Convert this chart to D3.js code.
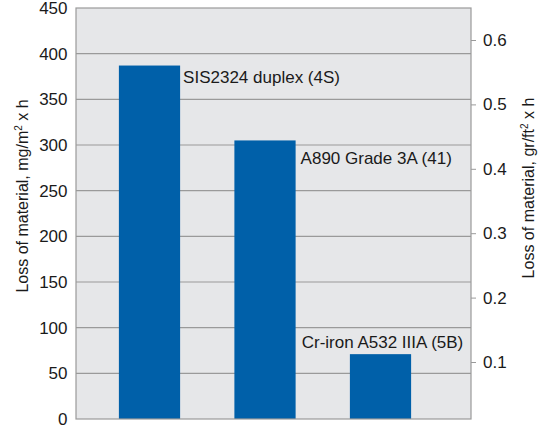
<!DOCTYPE html>
<html><head><meta charset="utf-8">
<script src="https://cdn.jsdelivr.net/npm/d3@7"></script>
<style>
body{margin:0;background:#fff;}
text{font-family:"Liberation Sans",Arial,Helvetica,sans-serif;fill:#1a1a1a;}
</style></head>
<body>
<svg id="c" width="545" height="429"></svg>
<script>
const categories = ["SIS2324 duplex (4S)", "A890 Grade 3A (41)", "Cr-iron A532 IIIA (5B)"];
const values = [387, 305, 71];
const leftTicks = [0, 50, 100, 150, 200, 250, 300, 350, 400, 450];
const rightTicks = [0.1, 0.2, 0.3, 0.4, 0.5, 0.6];

const svg = d3.select("#c");
const L = 76, R = 471, T = 8, B = 419;
const y = d3.scaleLinear().domain([0, 450]).range([B, T]);
const yR = d3.scaleLinear().domain([0.1, 0.6]).range([362, 40]);
const x = d3.scaleBand().domain(categories).range([91.75, 438.25]).paddingInner(0.47).paddingOuter(0.235);

svg.append("rect").attr("x", L).attr("y", T).attr("width", R - L).attr("height", B - T)
  .attr("fill", "#e6e7e9");

// gridlines
svg.append("g").selectAll("line").data(leftTicks.filter(d => d > 0 && d < 450)).join("line")
  .attr("x1", L).attr("x2", R).attr("y1", d => y(d)).attr("y2", d => y(d))
  .attr("stroke", "#9a9a9a").attr("stroke-width", 1.2);

// bars
svg.append("g").selectAll("rect").data(values).join("rect")
  .attr("x", (d, i) => x(categories[i])).attr("width", x.bandwidth())
  .attr("y", d => y(d)).attr("height", d => B - y(d))
  .attr("fill", "#0060a9");

// border
svg.append("rect").attr("x", L).attr("y", T).attr("width", R - L).attr("height", B - T)
  .attr("fill", "none").attr("stroke", "#9a9a9a").attr("stroke-width", 1.2);

// left axis
const la = svg.append("g").attr("transform", `translate(${L},0)`)
  .call(d3.axisLeft(y).tickValues(leftTicks).tickSize(0).tickPadding(8.5));
la.select(".domain").remove();
la.selectAll("text").style("font-size", "17px").style("font-family", '"Liberation Sans",Arial,sans-serif').attr("fill", "#1a1a1a");

// right axis
const ra = svg.append("g").attr("transform", `translate(${R},0)`)
  .call(d3.axisRight(yR).tickValues(rightTicks).tickFormat(d3.format(".1f")).tickSize(5).tickPadding(7));
ra.select(".domain").remove();
ra.selectAll("line").attr("stroke", "#9a9a9a");
ra.selectAll("text").style("font-size", "17px").style("font-family", '"Liberation Sans",Arial,sans-serif').attr("fill", "#1a1a1a");

// bar labels
const labelPos = [
  {dx: 3, y: 83},
  {dx: 5, y: 164},
  {dx: null, y: 348}
];
svg.append("g").selectAll("text").data(categories).join("text")
  .attr("x", (d, i) => i < 2 ? x(d) + x.bandwidth() + labelPos[i].dx : x(d) + x.bandwidth() / 2 + 2)
  .attr("y", (d, i) => labelPos[i].y)
  .attr("text-anchor", (d, i) => i < 2 ? "start" : "middle")
  .style("font-size", "17px")
  .text(d => d);

// axis titles
function title(xp, yp, unit) {
  const t = svg.append("text").attr("transform", `translate(${xp},${yp}) rotate(-90)`)
    .attr("text-anchor", "middle").style("font-size", "16px");
  t.append("tspan").text("Loss of material, " + unit);
  t.append("tspan").attr("dy", -6).style("font-size", "10px").text("2");
  t.append("tspan").attr("dy", 6).text(" x h");
}
title(28, 196, "mg/m");
title(534, 188, "gr/ft");
</script>
</body></html>
